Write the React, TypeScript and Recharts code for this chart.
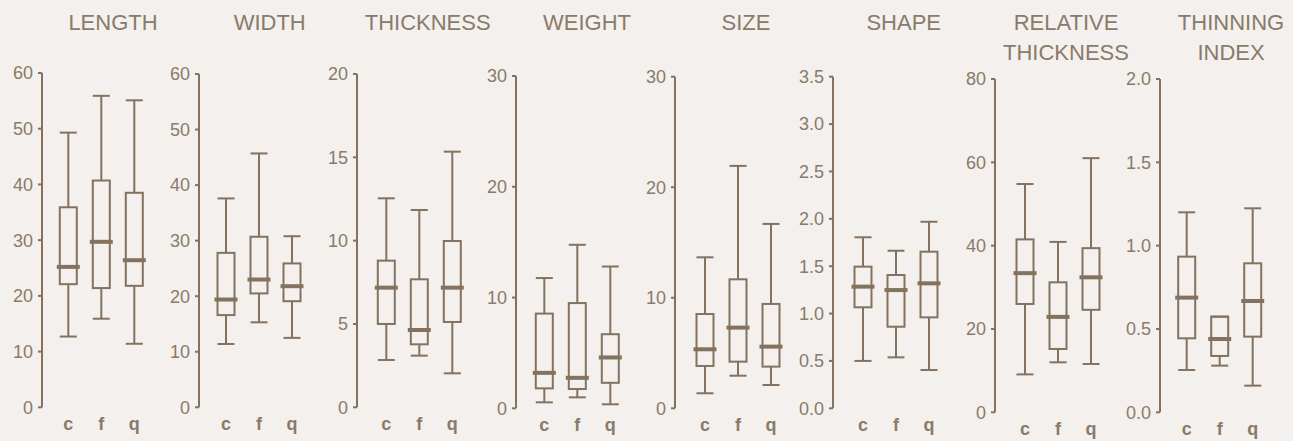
import { Bar, ComposedChart, XAxis, YAxis } from "recharts";

const categories = ["c", "f", "q"];

// each row: [min, q1, median, q3, max] for c, f, q
const lengthStats = [
  [12.7, 22.1, 25.2, 35.9, 49.3],
  [15.9, 21.4, 29.7, 40.7, 55.9],
  [11.4, 21.8, 26.4, 38.5, 55.1],
];
const widthStats = [
  [11.4, 16.6, 19.4, 27.8, 37.6],
  [15.3, 20.5, 23.0, 30.7, 45.7],
  [12.5, 19.1, 21.8, 25.9, 30.8],
];
const thicknessStats = [
  [2.84, 5.0, 7.18, 8.8, 12.54],
  [3.1, 3.78, 4.64, 7.68, 11.84],
  [2.04, 5.12, 7.18, 9.98, 15.34],
];
const weightStats = [
  [0.54, 1.8, 3.2, 8.55, 11.76],
  [0.99, 1.74, 2.75, 9.5, 14.76],
  [0.36, 2.3, 4.59, 6.69, 12.8],
];
const sizeStats = [
  [1.36, 3.83, 5.34, 8.53, 13.66],
  [2.95, 4.22, 7.3, 11.67, 21.93],
  [2.11, 3.77, 5.58, 9.44, 16.68],
];
const shapeStats = [
  [0.5, 1.066, 1.284, 1.495, 1.805],
  [0.538, 0.861, 1.248, 1.407, 1.663],
  [0.404, 0.96, 1.319, 1.653, 1.969],
];
const relThicknessStats = [
  [9.1, 26.0, 33.4, 41.5, 54.8],
  [12.0, 15.2, 22.9, 31.2, 40.9],
  [11.6, 24.6, 32.4, 39.4, 61.0],
];
const thinningStats = [
  [0.254, 0.444, 0.688, 0.934, 1.2],
  [0.28, 0.338, 0.44, 0.574, 0.574],
  [0.16, 0.454, 0.668, 0.894, 1.224],
];

const lengthTicks = [0, 10, 20, 30, 40, 50, 60];
const widthTicks = [0, 10, 20, 30, 40, 50, 60];
const thicknessTicks = [0, 5, 10, 15, 20];
const weightTicks = [0, 10, 20, 30];
const sizeTicks = [0, 10, 20, 30];
const shapeTicks = [0, 0.5, 1, 1.5, 2, 2.5, 3, 3.5];
const relThicknessTicks = [0, 20, 40, 60, 80];
const thinningTicks = [0, 0.5, 1, 1.5, 2];

const titles = [
  ["LENGTH"],
  ["WIDTH"],
  ["THICKNESS"],
  ["WEIGHT"],
  ["SIZE"],
  ["SHAPE"],
  ["RELATIVE", "THICKNESS"],
  ["THINNING", "INDEX"],
];
const allStats = [lengthStats, widthStats, thicknessStats, weightStats, sizeStats, shapeStats, relThicknessStats, thinningStats];
const allTicks = [lengthTicks, widthTicks, thicknessTicks, weightTicks, sizeTicks, shapeTicks, relThicknessTicks, thinningTicks];
const decimals = [0, 0, 0, 0, 0, 1, 0, 1];

// layout (pixels)
const axisX = [42, 198.7, 356.7, 516, 675, 832.7, 995, 1160];
const plotTop = [73, 74, 74, 76, 76.7, 76.7, 79, 79];
const plotBottom = [407.3, 407.3, 407.3, 408.3, 408.3, 408.3, 412.3, 412.3];
const padLeft = [9.8, 10.5, 12.8, 11.8, 13.5, 13.5, 13.5, 10.2];

const INK = "#84725f";
const TEXT = "#8a7a69";
const BG = "#f3f0ed";
const FONT = "'Liberation Sans', Arial, sans-serif";

const BoxShape = (props: any) => {
  const { x, y, width, height, payload } = props;
  const [mn, q1, md, q3, mx] = payload.stats as number[];
  const k = height / (mx - mn);
  const py = (v: number) => y + (mx - v) * k;
  const cx = x + width / 2;
  return (
    <g stroke={INK} fill="none">
      <line x1={cx} x2={cx} y1={py(mx)} y2={py(q3)} strokeWidth={2} />
      <line x1={cx} x2={cx} y1={py(q1)} y2={py(mn)} strokeWidth={2} />
      <line x1={x} x2={x + width} y1={py(mx)} y2={py(mx)} strokeWidth={2} />
      <line x1={x} x2={x + width} y1={py(mn)} y2={py(mn)} strokeWidth={2} />
      <rect x={x} y={py(q3)} width={width} height={py(q1) - py(q3)} strokeWidth={2} />
      <line x1={x - 3} x2={x + width + 3} y1={py(md)} y2={py(md)} strokeWidth={4} />
    </g>
  );
};

const Panel = ({ i }: { i: number }) => {
  const rows = categories.map((cat, j) => ({
    cat,
    stats: allStats[i][j],
    range: [allStats[i][j][0], allStats[i][j][4]],
  }));
  const ticks = allTicks[i];
  const chartLeft = axisX[i] - 40;
  return (
    <div style={{ position: "absolute", left: chartLeft, top: 0 }}>
      <div
        style={{
          position: "absolute",
          left: 40 + 66 + 5 - 90,
          width: 180,
          top: 8,
          textAlign: "center",
          fontFamily: FONT,
          fontSize: 22,
          lineHeight: "30px",
          color: TEXT,
          whiteSpace: "nowrap",
        }}
      >
        {titles[i].map((t) => (
          <div key={t}>{t}</div>
        ))}
      </div>
      <ComposedChart
        width={160}
        height={441}
        data={rows}
        margin={{ top: plotTop[i], right: 7, bottom: 441 - plotBottom[i] - 30, left: 0 }}
      >
        <XAxis
          dataKey="cat"
          height={30}
          axisLine={false}
          tickLine={false}
          tickMargin={4}
          padding={{ left: padLeft[i], right: 14 - padLeft[i] }}
          tick={{ fill: TEXT, fontSize: 18, fontFamily: FONT, fontWeight: "bold" }}
        />
        <YAxis
          width={40}
          domain={[0, ticks[ticks.length - 1]]}
          ticks={ticks}
          interval={0}
          tickSize={4}
          tickMargin={5}
          axisLine={{ stroke: INK, strokeWidth: 2 }}
          tickLine={{ stroke: INK, strokeWidth: 2 }}
          tick={{ fill: TEXT, fontSize: 18, fontFamily: FONT }}
          tickFormatter={(v: number) => v.toFixed(decimals[i])}
        />
        <Bar dataKey="range" barSize={17} shape={BoxShape} isAnimationActive={false} />
      </ComposedChart>
    </div>
  );
};

export default function App() {
  return (
    <div style={{ position: "absolute", left: 0, top: 0, width: 1293, height: 441, background: BG, overflow: "hidden" }}>
      {titles.map((_, i) => (
        <Panel key={i} i={i} />
      ))}
    </div>
  );
}
